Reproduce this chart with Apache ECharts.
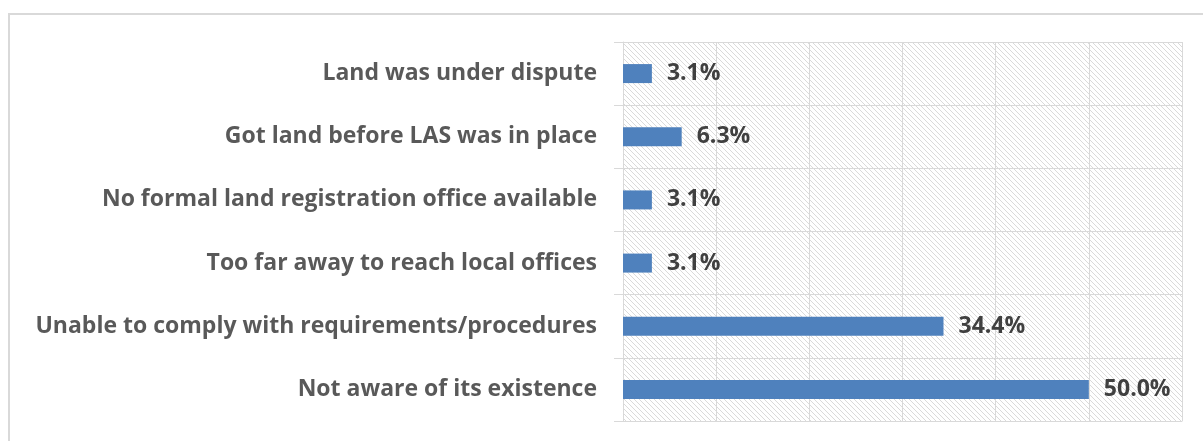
<!DOCTYPE html>
<html>
<head>
<meta charset="utf-8">
<script src="https://cdn.jsdelivr.net/npm/echarts@6/dist/echarts.min.js"></script>
<style>
  html, body { margin: 0; padding: 0; background: #fff; }
  #frame { position: absolute; left: 8px; top: 13px; width: 1300px; height: 500px;
           border-top: 2px solid #d9d9d9; border-left: 2px solid #d9d9d9; }
  #chart { position: absolute; left: 0; top: 0; width: 1203px; height: 441px; }
</style>
</head>
<body>
<div id="frame"></div>
<div id="chart"></div>
<script>
// reasons (bottom to top, as drawn on the y axis)
var reasons = [
    'Not aware of its existence',
    'Unable to comply with requirements/procedures',
    'Too far away to reach local offices',
    'No formal land registration office available',
    'Got land before LAS was in place',
    'Land was under dispute'
];
var shares = [50.0, 34.4, 3.1, 3.1, 6.3, 3.1];
var xTicks = [0, 10, 20, 30, 40, 50, 60];

// hatched plot background
function hatch() {
    var c = document.createElement('canvas');
    c.width = 5; c.height = 5;
    var ctx = c.getContext('2d');
    ctx.fillStyle = '#ffffff';
    ctx.fillRect(0, 0, 5, 5);
    ctx.strokeStyle = '#dadada';
    ctx.lineWidth = 1;
    ctx.beginPath();
    ctx.moveTo(-1, -1); ctx.lineTo(6, 6);
    ctx.moveTo(-1, 4); ctx.lineTo(1, 6);
    ctx.moveTo(4, -1); ctx.lineTo(6, 1);
    ctx.stroke();
    return c;
}

var chart = echarts.init(document.getElementById('chart'));
var option = {
    backgroundColor: 'transparent',
    animation: false,
    grid: {
        left: 623, top: 42, right: 21, bottom: 20,
        show: true,
        borderWidth: 0,
        backgroundColor: { image: hatch(), repeat: 'repeat' }
    },
    xAxis: {
        type: 'value',
        min: xTicks[0],
        max: xTicks[xTicks.length - 1],
        interval: 10,
        axisLabel: { show: false },
        axisTick: { show: false },
        axisLine: { show: true, lineStyle: { color: '#d9d9d9', width: 1 } },
        splitLine: { show: true, lineStyle: { color: '#d9d9d9', width: 1 } }
    },
    yAxis: {
        type: 'category',
        data: reasons,
        axisLine: { show: true, lineStyle: { color: '#d9d9d9', width: 1 } },
        axisTick: { show: true, length: 9, lineStyle: { color: '#d9d9d9' } },
        splitLine: { show: true, lineStyle: { color: '#d9d9d9', width: 1 } },
        axisLabel: {
            margin: 26,
            color: '#595959',
            fontFamily: 'Open Sans',
            fontWeight: 'bold',
            fontSize: 23
        }
    },
    series: [
        {
            type: 'bar',
            data: shares,
            barWidth: 19,
            itemStyle: { color: '#4f81bd' },
            label: {
                show: true,
                position: 'right',
                distance: 15,
                color: '#404040',
                fontFamily: 'Open Sans',
                fontWeight: 'bold',
                fontSize: 23,
                formatter: function (p) { return p.value.toFixed(1) + '%'; }
            }
        }
    ]
};
chart.setOption(option);
</script>
</body>
</html>
